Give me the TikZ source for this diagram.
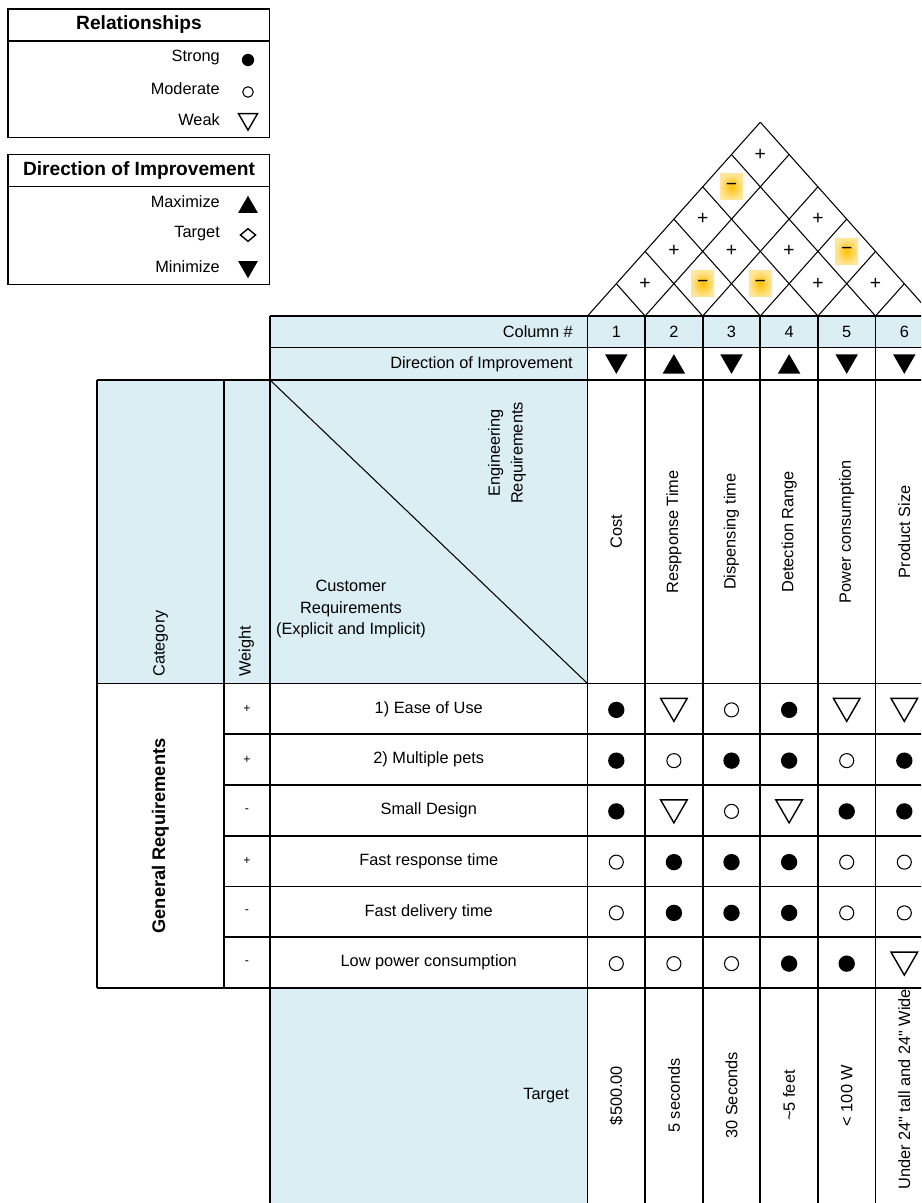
\documentclass[tikz,border=0pt]{standalone}
\usepackage{fontspec}
\setmainfont{Liberation Sans}
\usepackage{tikz}
\usetikzlibrary{shapes.geometric}
\definecolor{hdr}{RGB}{218,238,243}
\definecolor{glow}{RGB}{255,192,0}

\begin{document}
\begin{tikzpicture}[x=0.02cm,y=-0.02cm,font=\fontsize{9.3}{11}\selectfont,
		grid/.style={line width=1.1pt},
		thinline/.style={line width=0.6pt},
		relS/.style={circle,fill=black,inner sep=0pt,minimum size=9.3pt},
		relM/.style={circle,draw=black,line width=0.6pt,inner sep=0pt,minimum size=8pt},
		relW/.style={regular polygon,regular polygon sides=3,shape border rotate=180,draw=black,line width=0.8pt,inner sep=0pt,minimum size=17.5pt,yshift=2.2pt},
		dirmax/.style={regular polygon,regular polygon sides=3,fill=black,inner sep=0pt,minimum size=14.8pt,yshift=-1.8pt},
		dirmin/.style={regular polygon,regular polygon sides=3,shape border rotate=180,fill=black,inner sep=0pt,minimum size=14.8pt,yshift=1.8pt},
		dirtgt/.style={diamond,draw=black,line width=0.8pt,inner sep=0pt,minimum width=9pt,minimum height=7.5pt},
		corr/.style={font=\fontsize{11}{12}\selectfont,inner sep=0pt},
		hl/.style={corr,rectangle,inner color=glow,outer color=glow!40,minimum width=13pt,minimum height=15pt},
		lbl/.style={anchor=east},
		title/.style={font=\bfseries\fontsize{10.9}{12}\selectfont}]
			\useasboundingbox (0,0) rectangle (921,1203);
			\clip (0,0) rectangle (921,1203);
			\def\colx{587.5}
			\def\colw{57.6}
			\def\roofy{316}
			\def\roofh{32.3}
			\def\rowy{683.5}
			\def\rowh{50.75}
			
			% legend
			
			\draw[grid] (8,9) rectangle (269.5,137.5);
			\draw[grid] (8,41) -- (269.5,41);
			\node[title] (RelT) at (139,25) {Relationships};
			\node[lbl] (L1) at (226,57) {Strong};
			\node[lbl] (L2) at (226,89) {Moderate};
			\node[lbl] (L3) at (226,120) {Weak};
			\node[relS,minimum size=7pt] (K1) at (248,60) {};
			\node[relM,minimum size=6pt] (K2) at (248,92) {};
			\node[relW,minimum size=12.5pt,yshift=-0.6pt] (K3) at (248,122) {};
			
			\draw[grid] (8,154.5) rectangle (269.5,284.5);
			\draw[grid] (8,186.5) -- (269.5,186.5);
			\node[title] (DirT) at (139,170.5) {Direction of Improvement};
			\node[lbl] (L4) at (226,202) {Maximize};
			\node[lbl] (L5) at (226,234) {Target};
			\node[lbl] (L6) at (226,267) {Minimize};
			\node[dirmax,minimum size=13pt] (K4) at (248,204) {};
			\node[dirtgt] (K5) at (248,235) {};
			\node[dirmin,minimum size=13pt] (K6) at (248,270) {};
			
			% header cells
			
			\fill[hdr] (270,316) rectangle (940,347.5);
			\fill[hdr] (270,347.5) rectangle (587.5,380);
			\fill[hdr] (97,380) rectangle (587.5,683.5);
			\fill[hdr] (270,988) rectangle (587.5,1210);
			
			% roof
			
			\foreach \k in {0,...,6} {
				\pgfmathsetmacro{\bx}{\colx+\k*\colw}
				\draw[thinline] (\bx,\roofy) -- ++({(6-\k)*\colw/2},{-(6-\k)*\roofh});
				\draw[thinline] (\bx,\roofy) -- ++({-\k*\colw/2},{-\k*\roofh});
			}
			\foreach \i/\j in {1/2,4/5,5/6,1/3,2/4,3/5,1/4,3/6,1/6} {
				\pgfmathsetmacro{\cx}{\colx+(\i+\j-1)*\colw/2}
				\pgfmathsetmacro{\cy}{\roofy-(\j-\i)*\roofh}
				\node[corr] (C\i\j) at (\cx,\cy) {+};
			}
			\foreach \i/\j in {2/3,3/4,4/6,1/5} {
				\pgfmathsetmacro{\cx}{\colx+(\i+\j-1)*\colw/2}
				\pgfmathsetmacro{\cy}{\roofy-(\j-\i)*\roofh}
				\node[hl] (C\i\j) at (\cx,\cy) {−};
			}
			
			% column numbers and directions
			
			\node[lbl] (NumT) at (579,332) {Column \#};
			\node[lbl] (DirR) at (579,364) {Direction of Improvement};
			\foreach \k/\d in {1/min,2/max,3/min,4/max,5/min,6/min} {
				\pgfmathsetmacro{\cx}{\colx+(\k-0.5)*\colw}
				\node (N\k) at (\cx,332) {\k};
				\node[dir\d] (D\k) at (\cx,364) {};
			}
			
			% engineering requirements
			
			\foreach \k/\txt in {1/Cost,2/Respponse Time,3/Dispensing time,4/Detection Range,5/Power consumption,6/Product Size} {
				\pgfmathsetmacro{\cx}{\colx+(\k-0.5)*\colw}
				\node[rotate=90] (H\k) at (\cx,531.75) {\txt};
			}
			\node[rotate=90,align=center,font=\fontsize{9.3}{13}\selectfont] (Eng) at (507,453) {Engineering\\Requirements};
			\node[align=center,font=\fontsize{9.3}{12.2}\selectfont] (Cus) at (351,609) {Customer\\Requirements\\(Explicit and Implicit)};
			\node[rotate=90,anchor=west,inner sep=0pt] (Cat) at (160.5,677) {Category};
			\node[rotate=90,anchor=west,inner sep=0pt] (Wgt) at (246.5,677) {Weight};
			\node[rotate=90,font=\bfseries\fontsize{10.4}{12}\selectfont] (Gen) at (160.5,836) {General Requirements};
			
			% customer requirements
			
			\foreach \r/\txt/\w in {1/{1) Ease of Use}/+,2/{2) Multiple pets}/+,3/Small Design/-,4/Fast response time/+,5/Fast delivery time/-,6/Low power consumption/-} {
				\pgfmathsetmacro{\cy}{\rowy+(\r-0.5)*\rowh}
				\node (R\r) at (428.75,\cy) {\txt};
				\node[font=\fontsize{7}{8}\selectfont] (W\r) at (247,\cy) {\w};
			}
			
			% relationships
			
			\foreach \r/\row in {1/{S,W,M,S,W,W},2/{S,M,S,S,M,S},3/{S,W,M,W,S,S},4/{M,S,S,S,M,M},5/{M,S,S,S,M,M},6/{M,M,M,S,S,W}} {
				\foreach \s [count=\c] in \row {
					\pgfmathsetmacro{\cx}{\colx+(\c-0.5)*\colw}
					\pgfmathsetmacro{\cy}{\rowy+(\r-0.5)*\rowh+1}
					\node[rel\s] (M\r-\c) at (\cx,\cy) {};
				}
			}
			
			% targets
			
			\node[lbl] (TgtT) at (575,1096) {Target};
			\foreach \k/\txt in {1/\$500.00,2/5 seconds,3/30 Seconds,4/\textasciitilde5 feet,5/< 100 W} {
				\pgfmathsetmacro{\cx}{\colx+(\k-0.5)*\colw}
				\node[rotate=90] (V\k) at (\cx,1095.5) {\txt};
			}
			\begin{scope}
				\clip (875.5,988) rectangle (940,1210);
				\node[rotate=90,anchor=west,inner sep=0pt] (V6) at (904.3,1190) {Under 24\textquotedbl{} tall and 24\textquotedbl{} Wide};
			\end{scope}
			
			% grid
			
			\draw[grid] (270,316) -- (940,316);
			\draw[grid] (270,347.5) -- (940,347.5);
			\draw[grid] (97,380) -- (940,380);
			\draw[grid] (97,683.5) -- (940,683.5);
			\foreach \r in {1,...,5}
				\draw[grid] (224,\rowy+\r*\rowh) -- (940,\rowy+\r*\rowh);
			\draw[grid] (97,988) -- (940,988);
			\draw[grid] (97,380) -- (97,988);
			\draw[grid] (224,380) -- (224,988);
			\draw[grid] (270,316) -- (270,1210);
			\foreach \k in {0,...,6}
				\draw[grid] (\colx+\k*\colw,316) -- (\colx+\k*\colw,1210);
			\draw[thinline] (270,380) -- (587.5,683.5);
		\end{tikzpicture}
\end{document}
